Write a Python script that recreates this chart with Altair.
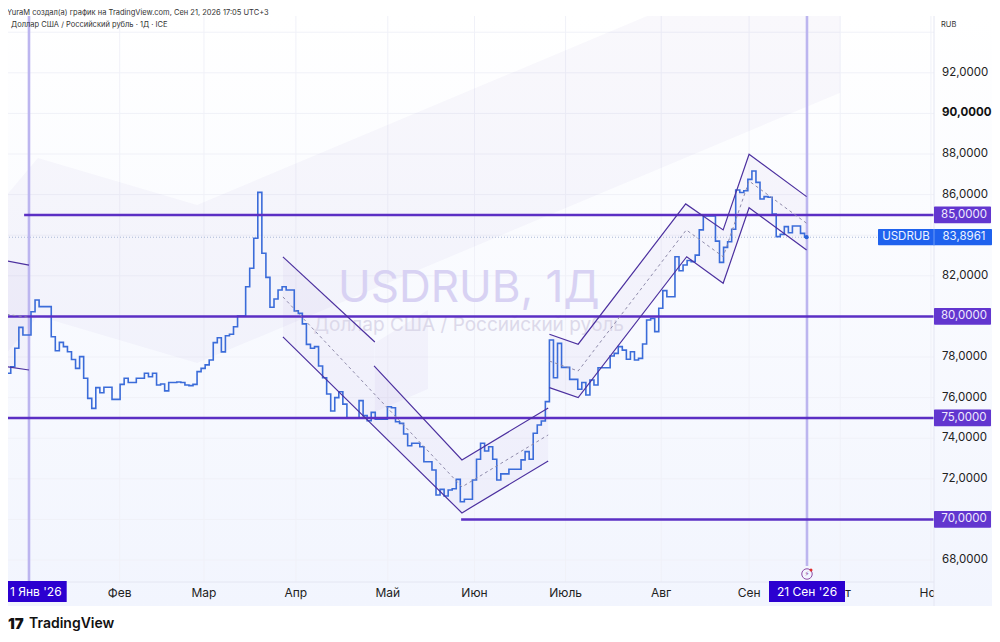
import altair as alt
import pandas as pd

# ---- price series, one value per daily bar ----
series_a = [77.20,77.52,78.43,79.46,79.08,79.08,80.23,80.81,80.48,80.48,80.48,79.00,78.31,78.72,78.51,78.26,77.88,77.44,78.02,76.95,
            75.96,75.47,76.49,76.24,76.51,76.51,75.91,75.91,76.65,76.95,76.74,76.74,76.95,76.95,77.20,77.03,77.20,76.62,76.67,76.33,
            76.74,76.74,76.77,76.74,76.62,76.59,76.65,77.28,77.44,77.61,77.85,78.71,78.95,78.25,79.05,79.12,79.49,80.02,80.02,81.46,
            82.37,83.85,86.11,83.11,81.92,80.45,80.86,81.30,81.46,81.30,81.30]
series_b = [80.27,80.15,79.63,78.62,78.43,78.51,77.56,76.98,76.18,75.34,76.00,76.29,75.68,74.98,74.98,75.01,75.85,75.11,74.86,75.27,
            74.93,74.93,74.93,75.55,75.50,74.81,74.73,74.21,73.63,73.75,73.75,73.58,72.84,72.84,72.43,71.20,71.48,71.15,71.45,71.51,
            71.97,70.87,70.99,70.99,71.94,72.96,73.75,73.37,73.58,72.96,71.94,72.24,72.24,72.47,72.47,72.47,72.93,73.34,72.96,74.24,
            74.65,74.85,75.80]
series_c = [78.84,76.98,78.67,77.49,77.49,76.90,76.90,76.41,76.74,76.13,76.87,76.62,77.47,77.47,77.47,78.05,78.18,78.51,78.34,77.89,
            78.26,77.85,77.93,78.64,79.82,79.90,79.25,80.40,81.27,80.97,80.97,82.94,82.25,82.53,82.75,82.70,83.02,84.26,84.95,84.95,
            84.95,83.71,82.66,83.40,83.68,84.29,86.23,86.10,86.19,86.75,87.16,86.60,85.78,85.90,85.87,85.04,83.93,84.04,84.42,84.12,
            84.45,84.45,84.09,83.90,83.90]
prices = series_a + series_b + series_c
bars = [float(i) for i in range(len(prices))]
bars[-1] = 197.5
last_bar, last_price = 197.5, 83.90

# ---- time axis ----
month_bars = [27.9, 48.7, 71.4, 94.1, 115.5, 138.0, 161.6, 183.3, 205.8, 228.2]
month_names = ["Фев", "Мар", "Апр", "Май", "Июн", "Июль", "Авг", "Сен", "Окт", "Ноя"]
jan_bar, sep_bar = 5.5, 197.6

# ---- price axis ----
grid_prices = [68, 70, 72, 74, 76, 78, 80, 82, 84, 86, 88, 90, 92, 94]
label_prices = [68, 72, 74, 76, 78, 82, 86, 88, 92]
label_texts = ["68,0000", "72,0000", "74,0000", "76,0000", "78,0000", "82,0000", "86,0000", "88,0000", "92,0000"]
bold_price, bold_text = 90, "90,0000"

# ---- horizontal levels ----
level_price = [85, 80, 75, 70]
level_start = [4.3, 0, 0, 112.2]
level_end = [229, 229, 229, 229]
tag_label = ["85,0000", "80,0000", "75,0000", "70,0000"]

# ---- big background channel ----
band_bar = [0, 7.7, 47, 205.8]
band_top = [85.98, 87.80, 85.49, 98.79]
band_bot = [78.20, 80.02, 77.70, 91.02]

# ---- shaded channel sections: segment, bar, top, bottom ----
shade_seg = [0,0, 1,1, 2,2, 3,3, 4,4, 5,5,5,5,5,5]
shade_bar = [0,5.5, 68.2,90.8, 90.8,112.4, 112.4,133.7, 90.9,104, 134,141.1,167.8,176.9,183.3,197.5]
shade_top = [82.73,82.53, 82.93,78.74, 77.56,72.93, 72.93,75.49, 78.69,80.32, 79.12,78.63,85.54,84.26,87.99,85.90]
shade_bot = [77.52,77.36, 78.99,74.56, 74.56,70.32, 70.32,72.88, 75.29,76.42, 76.49,76.00,82.94,81.63,85.35,83.27]

# ---- channel border lines ----
line_seg = ["a","a", "b","b", "c","c", "d","d","d", "e","e","e", "f","f","f","f","f","f", "g","g","g","g","g","g"]
line_bar = [0,5.5, 0,5.5, 68.2,90.9, 90.7,112.4,133.7, 68.2,112.4,133.7, 134,141.1,167.65,176.9,183.3,197.5, 134,141.1,167.9,176.9,183.3,197.5]
line_val = [82.73,82.53, 77.52,77.36, 82.93,78.74, 77.56,72.93,75.49, 78.99,70.32,72.88,
            79.12,78.63,85.54,84.26,87.99,85.90, 76.49,76.00,82.94,81.63,85.35,83.27]

# ---- dashed channel median lines ----
mid_seg = ["m","m", "n","n","n", "o","o","o","o","o","o"]
mid_bar = [0,5.5, 68.2,112.4,133.7, 134,141.1,167.8,176.9,183.3,197.5]
mid_val = [80.10,79.95, 80.96,71.60,74.16, 77.80,77.31,84.26,82.94,86.67,84.59]

X_DOM = [0.32, 228.96]
Y_DOM = [66.916, 94.798]
W, H = 926, 566
FONT = "Inter"
x_s = alt.Scale(domain=X_DOM, nice=False, zero=False)
y_s = alt.Scale(domain=Y_DOM, nice=False, zero=False)
X = lambda f="i": alt.X(f"{f}:Q", scale=x_s, axis=None)
Y = lambda f="p": alt.Y(f"{f}:Q", scale=y_s, axis=None)
Y2 = lambda f: alt.Y2(f"{f}:Q")
one = pd.DataFrame({"k": [0]})

PURPLE = "#5b2fc4"
CHAN = "#4c309f"
FILL = "#5e35b1"
PANE = alt.LinearGradient(gradient="linear", x1=0, x2=0, y1=0, y2=1,
                          stops=[alt.GradientStop(color="#ffffff", offset=0),
                                 alt.GradientStop(color="#f2f5fe", offset=1)])

background = alt.Chart(one).mark_rect(clip=False, fill=PANE).encode(
    x=alt.value(0), x2=alt.value(984), y=alt.value(0), y2=alt.value(590))

h_grid = alt.Chart(pd.DataFrame({"p": grid_prices})).mark_rule(color="#f0f1f8", strokeWidth=1).encode(y=Y())
v_grid = alt.Chart(pd.DataFrame({"i": month_bars})).mark_rule(color="#f0f1f8", strokeWidth=1).encode(x=X())

band = alt.Chart(pd.DataFrame({"i": band_bar, "p": band_top, "q": band_bot})).mark_area(
    clip=True, color=FILL, opacity=0.035, line=False).encode(x=X(), y=Y(), y2=Y2("q"))

shades = alt.Chart(pd.DataFrame({"s": shade_seg, "i": shade_bar, "p": shade_top, "q": shade_bot})).mark_area(
    clip=True, color=FILL, opacity=0.04).encode(x=X(), y=Y(), y2=Y2("q"), detail="s:N")

mark1 = alt.Chart(one).mark_text(text="USDRUB, 1Д", font=FONT, fontSize=44, color="#d8d2f3", align="center", baseline="alphabetic"
    ).encode(x=alt.value(460.7), y=alt.value(286))
mark2 = alt.Chart(one).mark_text(text="Доллар США / Российский рубль", font=FONT, fontSize=19, color="#dcd9ea", align="center", baseline="alphabetic"
    ).encode(x=alt.value(460.7), y=alt.value(315))

price_line = alt.Chart(pd.DataFrame({"p": [last_price]})).mark_rule(color="#aab8d6", strokeWidth=1, strokeDash=[1, 2]).encode(y=Y())

jan_rule = alt.Chart(pd.DataFrame({"i": [jan_bar]})).mark_rule(color="#bcb5ef", strokeWidth=2.6).encode(x=X(), y=alt.value(0), y2=alt.value(566))
sep_rule = alt.Chart(pd.DataFrame({"i": [sep_bar]})).mark_rule(color="#bcb5ef", strokeWidth=2.6).encode(x=X(), y=alt.value(0), y2=alt.value(550))

series = alt.Chart(pd.DataFrame({"i": bars, "p": prices})).mark_line(
    clip=True, interpolate="step-after", color="#3b6cd9", strokeWidth=1.6).encode(x=X(), y=Y())
end_dot = alt.Chart(pd.DataFrame({"i": [last_bar], "p": [last_price]})).mark_circle(color="#2962d9", size=18, opacity=1).encode(x=X(), y=Y())

levels = alt.Chart(pd.DataFrame({"p": level_price, "a": level_start, "b": level_end})).mark_rule(
    clip=True, color=PURPLE, strokeWidth=2.5).encode(x=X("a"), x2=alt.X2("b:Q"), y=Y())

chan_lines = alt.Chart(pd.DataFrame({"s": line_seg, "i": line_bar, "p": line_val})).mark_line(
    clip=True, color=CHAN, strokeWidth=1.2).encode(x=X(), y=Y(), detail="s:N")
mid_lines = alt.Chart(pd.DataFrame({"s": mid_seg, "i": mid_bar, "p": mid_val})).mark_line(
    clip=True, color="#8f8bab", strokeWidth=1, strokeDash=[3, 3]).encode(x=X(), y=Y(), detail="s:N")

month_text = alt.Chart(pd.DataFrame({"i": month_bars, "t": month_names})).mark_text(
    font=FONT, fontSize=12, color="#222222", align="center", baseline="middle", clip=False
).encode(x=X(), y=alt.value(577), text="t:N")

# price scale panel hides what runs past the pane
scale_panel = alt.Chart(one).mark_rect(clip=False, fill=PANE).encode(
    x=alt.value(926), x2=alt.value(984), y=alt.value(0), y2=alt.value(590))
sep_v = alt.Chart(one).mark_rule(color="#e4e6f2", strokeWidth=1).encode(x=alt.value(926), y=alt.value(0), y2=alt.value(590))
sep_h = alt.Chart(one).mark_rule(color="#e4e6f2", strokeWidth=1).encode(x=alt.value(0), x2=alt.value(926), y=alt.value(566))

# price scale labels
price_text = alt.Chart(pd.DataFrame({"p": label_prices, "t": label_texts})).mark_text(
    font=FONT, fontSize=11.5, color="#222222", align="left", baseline="middle", clip=False
).encode(x=alt.value(934), y=Y(), text="t:N")
price_bold = alt.Chart(pd.DataFrame({"p": [bold_price], "t": [bold_text]})).mark_text(
    font=FONT, fontSize=11.5, fontWeight="bold", color="#111111", align="left", baseline="middle", clip=False
).encode(x=alt.value(934), y=Y(), text="t:N")

# price tags
tag_df = pd.DataFrame({"p": [v + 0.41 for v in level_price], "q": [v - 0.41 for v in level_price], "c": level_price, "t": tag_label})
tags = alt.Chart(tag_df).mark_rect(color="#6236cf", cornerRadius=1, clip=False).encode(
    x=alt.value(926), x2=alt.value(983), y=Y(), y2=Y2("q"))
tag_text = alt.Chart(tag_df).mark_text(font=FONT, fontSize=11.5, color="#efeafd", align="center", baseline="middle", clip=False).encode(
    x=alt.value(956), y=Y("c"), text="t:N")

cur_df = pd.DataFrame({"p": [last_price + 0.40], "q": [last_price - 0.40], "c": [last_price], "u": ["USDRUB"], "v": ["83,8961"]})
cur_tag = alt.Chart(cur_df).mark_rect(color="#1f62ee", cornerRadius=1, clip=False).encode(
    x=alt.value(870), x2=alt.value(984), y=Y(), y2=Y2("q"))
cur_sep = alt.Chart(cur_df).mark_rule(color="#6e9bf5", strokeWidth=1).encode(x=alt.value(926), y=Y(), y2=Y2("q"))
cur_u = alt.Chart(cur_df).mark_text(font=FONT, fontSize=11.5, color="#eef3ff", align="center", baseline="middle", clip=False).encode(
    x=alt.value(898), y=Y("c"), text="u:N")
cur_v = alt.Chart(cur_df).mark_text(font=FONT, fontSize=11.5, color="#eef3ff", align="center", baseline="middle", clip=False).encode(
    x=alt.value(956), y=Y("c"), text="v:N")

# date tags
jan_tag = alt.Chart(one).mark_rect(color="#2c00d0", clip=False).encode(
    x=alt.value(0), x2=alt.value(58.7), y=alt.value(565), y2=alt.value(586))
sep_tag = alt.Chart(one).mark_rect(color="#2c00d0", clip=False).encode(
    x=alt.value(761), x2=alt.value(837), y=alt.value(565), y2=alt.value(586))
date_t1 = alt.Chart(one).mark_text(text="1 Янв '26", font=FONT, fontSize=12, color="#ffffff", align="left", baseline="middle", clip=False).encode(
    x=alt.value(2), y=alt.value(576))
date_t2 = alt.Chart(one).mark_text(text="21 Сен '26", font=FONT, fontSize=12, color="#ffffff", align="center", baseline="middle", clip=False).encode(
    x=alt.value(799), y=alt.value(576))

# event marker
flag_df = pd.DataFrame({"i": [sep_bar]})
flag = alt.Chart(flag_df).mark_point(shape="circle", size=110, filled=False, stroke="#8e4ba6", strokeWidth=1, opacity=1).encode(
    x=X(), y=alt.value(558))
flag_sym = alt.Chart(flag_df).mark_text(text="⚡", font="DejaVu Sans", fontSize=7, color="#8e4ba6", align="center", baseline="middle").encode(
    x=X(), y=alt.value(558))
flag_dot = alt.Chart(flag_df).mark_circle(color="#e03030", size=9, opacity=1).encode(
    x=X(), xOffset=alt.value(4), y=alt.value(554))

# header and footer
header = alt.Chart(one).mark_text(text="YuraM создал(а) график на TradingView.com, Сен 21, 2026 17:05 UTC+3", font=FONT, fontSize=7.5,
    color="#333333", align="left", baseline="middle", clip=False).encode(x=alt.value(-1), y=alt.value(-3.5))
subhead = alt.Chart(one).mark_text(text="Доллар США / Российский рубль · 1Д · ICE", font=FONT, fontSize=7.5,
    color="#333333", align="left", baseline="middle", clip=False).encode(x=alt.value(3), y=alt.value(9))
rub = alt.Chart(one).mark_text(text="RUB", font=FONT, fontSize=7.5, color="#333333", align="left", baseline="middle", clip=False
    ).encode(x=alt.value(933), y=alt.value(9))
logo_mark = alt.Chart(one).mark_text(text="17", font=FONT, fontSize=15, fontWeight=900, color="#111111", align="left", baseline="middle", clip=False
    ).encode(x=alt.value(0), y=alt.value(608))
logo_text = alt.Chart(one).mark_text(text="TradingView", font=FONT, fontSize=14, fontWeight=600, color="#111111", align="left", baseline="middle", clip=False
    ).encode(x=alt.value(21), y=alt.value(608))

chart = alt.layer(
    background, h_grid, v_grid, band, shades, mark1, mark2, price_line, jan_rule, sep_rule,
    series, end_dot, levels, chan_lines, mid_lines, sep_h, month_text, scale_panel, sep_v, price_text, price_bold,
    tags, tag_text, cur_tag, cur_sep, cur_u, cur_v, jan_tag, sep_tag, date_t1, date_t2, flag, flag_sym, flag_dot,
    header, subhead, rub, logo_mark, logo_text,
).resolve_scale(x="shared", y="shared").properties(
    width=W, height=H,
    padding={"left": 0, "top": 8, "right": 58, "bottom": 52},
    autosize=alt.AutoSizeParams(type="none"),
).configure_view(strokeWidth=0)

chart.save("out.html", embed_options={"renderer": "svg", "actions": False})
